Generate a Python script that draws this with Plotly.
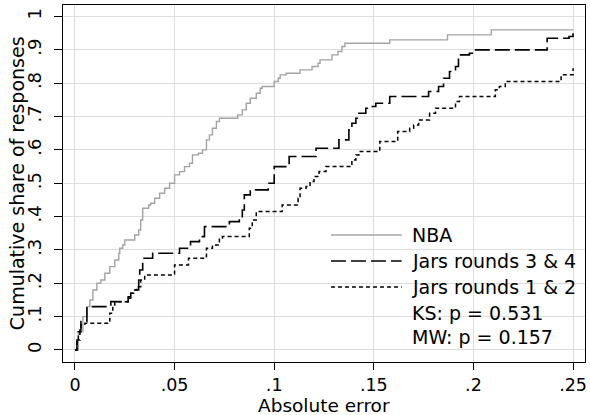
import plotly.graph_objects as go

# ---- data ----
nba_err = [0, 0.0017, 0.004, 0.006, 0.0075, 0.009, 0.011, 0.013, 0.015, 0.0175, 0.02, 0.022,
           0.0225, 0.024, 0.025, 0.03, 0.032, 0.033, 0.034, 0.037, 0.038, 0.04, 0.0425, 0.045,
           0.0475, 0.05, 0.0525, 0.055, 0.0575, 0.059, 0.062, 0.064, 0.066, 0.0675, 0.069, 0.071,
           0.0725, 0.0817, 0.084, 0.086, 0.088, 0.091, 0.093, 0.094, 0.1, 0.102, 0.103, 0.106,
           0.113, 0.119, 0.122, 0.123, 0.129, 0.132, 0.134, 0.1355, 0.158, 0.187, 0.209, 0.25]
nba_cum = [0, 0.055, 0.10, 0.13, 0.15, 0.18, 0.20, 0.21, 0.23, 0.25, 0.27, 0.29,
           0.305, 0.315, 0.33, 0.345, 0.36, 0.39, 0.425, 0.435, 0.44, 0.455, 0.47, 0.485,
           0.50, 0.525, 0.535, 0.55, 0.56, 0.585, 0.59, 0.60, 0.63, 0.645, 0.665, 0.685,
           0.695, 0.705, 0.72, 0.74, 0.755, 0.77, 0.785, 0.79, 0.805, 0.815, 0.825, 0.83,
           0.84, 0.85, 0.86, 0.87, 0.885, 0.895, 0.91, 0.92, 0.93, 0.945, 0.96, 0.96]

jars34_err = [0, 0.001, 0.0025, 0.003, 0.006, 0.018, 0.0267, 0.028, 0.03, 0.032, 0.0325, 0.034,
              0.039, 0.0525, 0.058, 0.0625, 0.065, 0.0775, 0.0825, 0.084, 0.085, 0.088, 0.097,
              0.1, 0.1075, 0.121, 0.1325, 0.1375, 0.139, 0.141, 0.1425, 0.146, 0.1475, 0.151,
              0.158, 0.1775, 0.1825, 0.185, 0.188, 0.191, 0.1925, 0.198, 0.2, 0.237, 0.248, 0.25]
jars34_cum = [0, 0.03, 0.06, 0.085, 0.13, 0.145, 0.155, 0.17, 0.18, 0.21, 0.24, 0.275,
              0.29, 0.305, 0.325, 0.34, 0.37, 0.385, 0.40, 0.42, 0.465, 0.48, 0.50,
              0.55, 0.58, 0.605, 0.63, 0.66, 0.68, 0.695, 0.71, 0.725, 0.73, 0.74,
              0.76, 0.775, 0.79, 0.815, 0.835, 0.85, 0.885, 0.89, 0.90, 0.935, 0.94, 0.95]

jars12_err = [0, 0.001, 0.0017, 0.003, 0.005, 0.0175, 0.019, 0.02, 0.0267, 0.028, 0.03, 0.031,
              0.033, 0.035, 0.05, 0.057, 0.066, 0.069, 0.0725, 0.074, 0.0875, 0.089, 0.091,
              0.104, 0.112, 0.113, 0.116, 0.118, 0.12, 0.1225, 0.126, 0.139, 0.141, 0.1425,
              0.153, 0.162, 0.168, 0.17, 0.1725, 0.178, 0.181, 0.191, 0.193, 0.211, 0.213,
              0.216, 0.244, 0.25]
jars12_cum = [0, 0.025, 0.055, 0.075, 0.08, 0.11, 0.135, 0.145, 0.16, 0.17, 0.18, 0.19,
              0.21, 0.225, 0.255, 0.275, 0.305, 0.315, 0.335, 0.34, 0.365, 0.39, 0.415,
              0.435, 0.455, 0.485, 0.49, 0.505, 0.52, 0.535, 0.55, 0.57, 0.585, 0.595,
              0.625, 0.655, 0.665, 0.675, 0.69, 0.71, 0.725, 0.745, 0.76, 0.78, 0.79,
              0.805, 0.825, 0.845]

x_ticks = [0, 0.05, 0.1, 0.15, 0.2, 0.25]
x_labels = ["0", ".05", ".1", ".15", ".2", ".25"]
y_ticks = [0, 0.1, 0.2, 0.3, 0.4, 0.5, 0.6, 0.7, 0.8, 0.9, 1]
y_labels = ["0", ".1", ".2", ".3", ".4", ".5", ".6", ".7", ".8", ".9", "1"]

series_names = ["NBA", "Jars rounds 3 & 4", "Jars rounds 1 & 2"]
stats_text = ["KS: p = 0.531", "MW: p = 0.157"]
x_title = "Absolute error"
y_title = "Cumulative share of responses"

FONT = "DejaVu Sans"
GRAY = "#a3a3a3"

styles = [
    dict(color=GRAY, width=1.4, dash="solid"),
    dict(color="black", width=1.6, dash="15px,5px"),
    dict(color="black", width=1.5, dash="4px,3px"),
]

fig = go.Figure()
for (xs, ys), name, st in zip([(nba_err, nba_cum), (jars34_err, jars34_cum), (jars12_err, jars12_cum)],
                              series_names, styles):
    fig.add_trace(go.Scatter(x=xs, y=ys, mode="lines", name=name, line_shape="hv",
                             line=st, showlegend=False))

# manual legend (pixel layout of the reference converted to paper coords)
L, R, T, B = 63, 587, 5, 362
def px(x): return (x - L) / (R - L)
def py(y): return (B - y) / (B - T)

rows = [235, 261, 287, 312.5, 337]
for i, (name, st) in enumerate(zip(series_names, styles)):
    fig.add_shape(type="line", xref="paper", yref="paper",
                  x0=px(332), x1=px(403), y0=py(rows[i]), y1=py(rows[i]),
                  line=dict(color=st["color"], width=st["width"], dash=st["dash"]))
labels = series_names + stats_text
for i, t in enumerate(labels):
    fig.add_annotation(text=t, xref="paper", yref="paper", x=px(411), y=py(rows[i]),
                       xanchor="left", yanchor="middle", showarrow=False,
                       font=dict(family=FONT, size=19, color="black"))

# axis titles
fig.add_annotation(text=x_title, xref="paper", yref="paper", x=px(325), y=py(405),
                   xanchor="center", yanchor="middle", showarrow=False,
                   font=dict(family=FONT, size=18.5, color="black"))
fig.add_annotation(text=y_title, xref="paper", yref="paper", x=px(17), y=py(183),
                   xanchor="center", yanchor="middle", showarrow=False, textangle=-90,
                   font=dict(family=FONT, size=19, color="black"))

fig.update_layout(
    width=590, height=415,
    margin=dict(l=L, r=590 - R, t=T, b=415 - B),
    paper_bgcolor="white", plot_bgcolor="white",
    font=dict(family=FONT, color="black"),
)
fig.update_xaxes(
    range=[-0.006, 0.256], tickvals=x_ticks, ticktext=x_labels,
    ticks="outside", ticklen=7, tickwidth=1, tickcolor="black",
    showgrid=True, gridcolor="#dedede", gridwidth=1.2, zeroline=False,
    showline=True, mirror=True, linecolor="black", linewidth=1.2,
    tickfont=dict(family=FONT, size=17.5, color="black"),
)
fig.update_yaxes(
    range=[-0.036, 1.0345], tickvals=y_ticks, ticktext=y_labels, tickangle=-90,
    ticks="outside", ticklen=8, tickwidth=1, tickcolor="black",
    showgrid=True, gridcolor="#dedede", gridwidth=1.2, zeroline=False,
    showline=True, mirror=True, linecolor="black", linewidth=1.2,
    tickfont=dict(family=FONT, size=18, color="black"), ticklabelstandoff=6,
)

fig.write_html("out.html")
